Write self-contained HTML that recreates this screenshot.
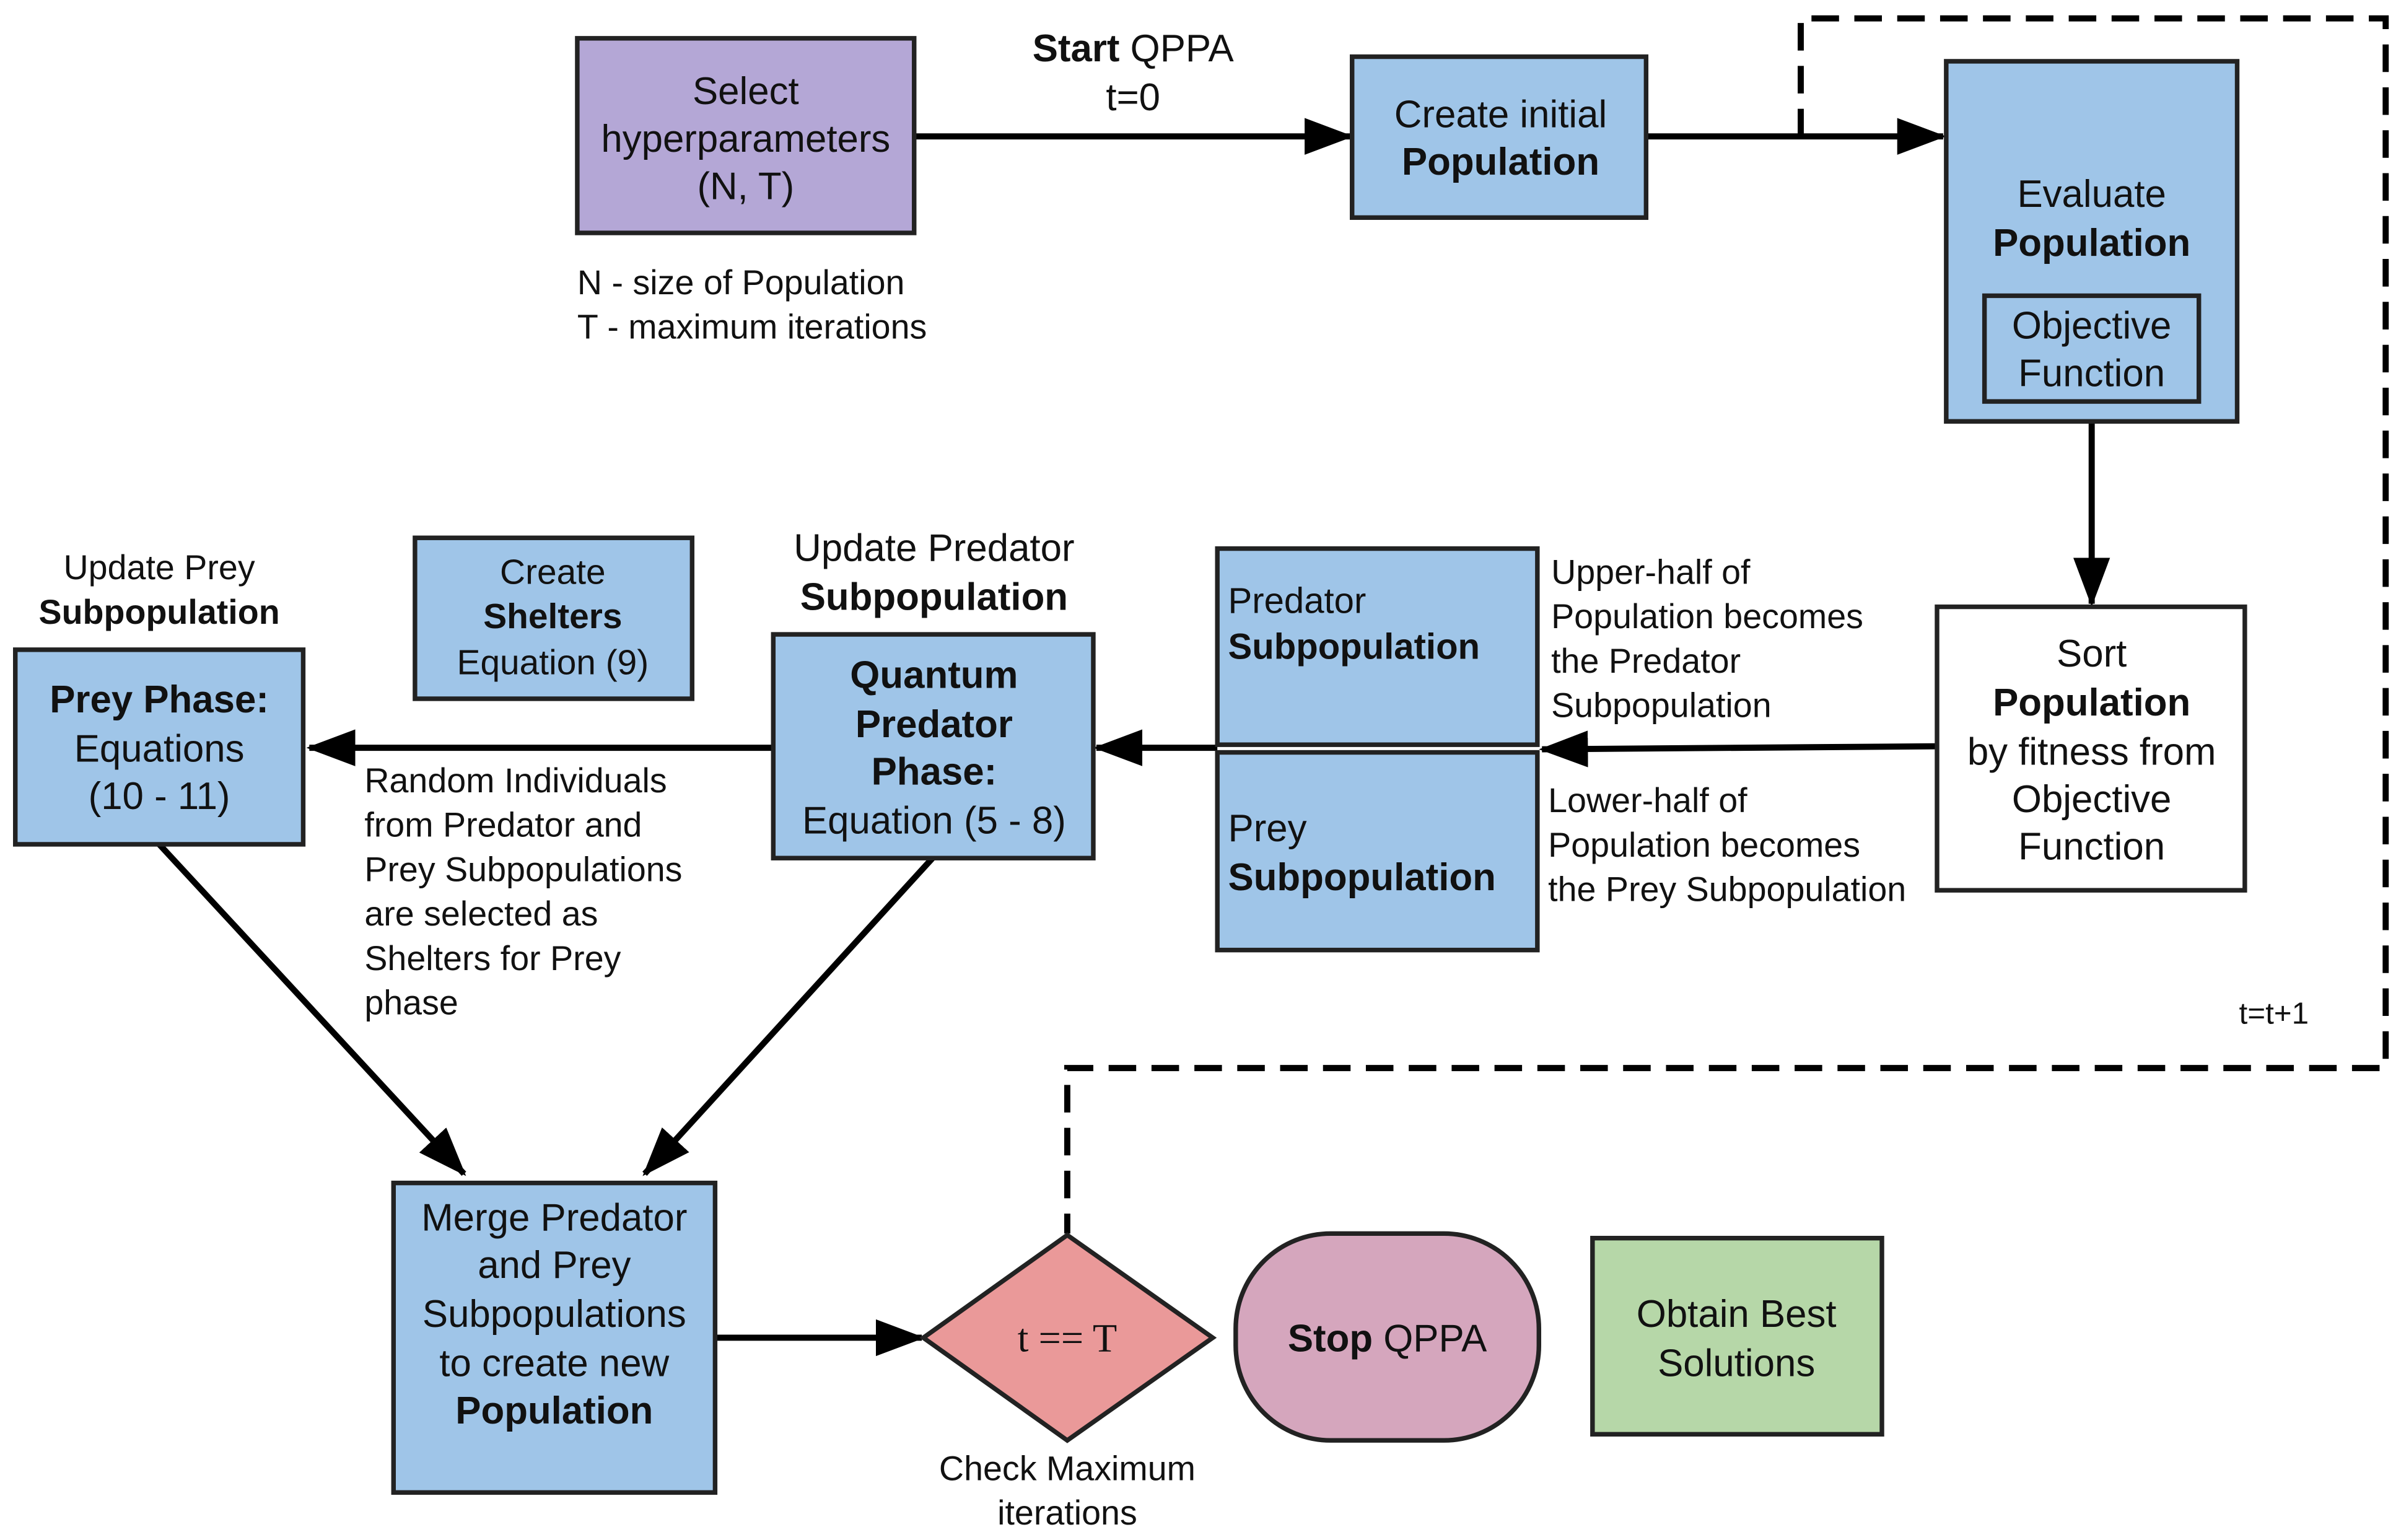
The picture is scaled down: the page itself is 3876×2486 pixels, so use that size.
<!DOCTYPE html>
<html><head><meta charset="utf-8"><style>
html,body{margin:0;padding:0;background:#fff;}
svg{display:block;}
text{font-family:"Liberation Sans",Arial,sans-serif;fill:#111;}
.b{font-size:25px;text-anchor:middle;}
.s{font-size:22.5px;}
.bold{font-weight:bold;}
.box{stroke:#222;stroke-width:3;}
.ln{stroke:#000;stroke-width:4;fill:none;}
</style></head><body>
<svg width="3876" height="2486" viewBox="0 0 1568 1005" preserveAspectRatio="none" xmlns="http://www.w3.org/2000/svg">
<defs>
<marker id="ah" markerWidth="8" markerHeight="6" refX="7.5" refY="3" orient="auto" markerUnits="strokeWidth">
<path d="M0,0 L8,3 L0,6 z" fill="#000"/>
</marker>
</defs>
<rect width="1568" height="1005" fill="#fff"/>

<path d="M1176,89 L1176,12 L1558,12 L1558,697 L697,697 L697,805" fill="none" stroke="#000" stroke-width="4" stroke-dasharray="18,10"/>

<line class="ln" x1="597" y1="89" x2="882" y2="89" marker-end="url(#ah)"/>
<line class="ln" x1="1075" y1="89" x2="1269" y2="89" marker-end="url(#ah)"/>
<line class="ln" x1="1366" y1="275" x2="1366" y2="394" marker-end="url(#ah)"/>
<line class="ln" x1="1265" y1="487" x2="1007" y2="489" marker-end="url(#ah)"/>
<line class="ln" x1="795" y1="488" x2="716" y2="488" marker-end="url(#ah)"/>
<line class="ln" x1="505" y1="488" x2="202" y2="488" marker-end="url(#ah)"/>
<line class="ln" x1="104" y1="551" x2="303" y2="766" marker-end="url(#ah)"/>
<line class="ln" x1="609" y1="560" x2="421" y2="766" marker-end="url(#ah)"/>
<line class="ln" x1="467" y1="873" x2="602" y2="873" marker-end="url(#ah)"/>

<rect class="box" x="377" y="25" width="220" height="127" fill="#b4a7d6"/>
<text class="b" x="487" y="68">Select</text>
<text class="b" x="487" y="99">hyperparameters</text>
<text class="b" x="487" y="130">(N, T)</text>
<text class="s" x="377" y="192">N -  size of Population</text>
<text class="s" x="377" y="221">T - maximum iterations</text>

<text class="b" x="740" y="40"><tspan class="bold">Start</tspan> QPPA</text>
<text class="b" x="740" y="72">t=0</text>

<rect class="box" x="883" y="37" width="192" height="105" fill="#9fc5e8"/>
<text class="b" x="980" y="83">Create initial</text>
<text class="b bold" x="980" y="114">Population</text>

<rect class="box" x="1271" y="40" width="190" height="235" fill="#9fc5e8"/>
<text class="b" x="1366" y="135">Evaluate</text>
<text class="b bold" x="1366" y="167">Population</text>
<rect class="box" x="1296" y="193" width="140" height="69" fill="#9fc5e8"/>
<text class="b" x="1366" y="221">Objective</text>
<text class="b" x="1366" y="252">Function</text>

<rect class="box" x="1265" y="396" width="201" height="185" fill="#fff"/>
<text class="b" x="1366" y="435">Sort</text>
<text class="b bold" x="1366" y="467">Population</text>
<text class="b" x="1366" y="499">by fitness from</text>
<text class="b" x="1366" y="530">Objective</text>
<text class="b" x="1366" y="561">Function</text>

<rect class="box" x="795" y="358" width="209" height="128" fill="#9fc5e8"/>
<text x="802" y="400" style="font-size:23.5px">Predator</text>
<text class="bold" x="802" y="430" style="font-size:23.5px">Subpopulation</text>
<rect class="box" x="795" y="491" width="209" height="129" fill="#9fc5e8"/>
<text class="b" x="802" y="549" style="text-anchor:start">Prey</text>
<text class="b bold" x="802" y="581" style="text-anchor:start">Subpopulation</text>

<text class="s" x="1013" y="381">Upper-half of</text>
<text class="s" x="1013" y="410">Population becomes</text>
<text class="s" x="1013" y="439">the Predator</text>
<text class="s" x="1013" y="468">Subpopulation</text>
<text class="s" x="1011" y="530">Lower-half of</text>
<text class="s" x="1011" y="559">Population  becomes</text>
<text class="s" x="1011" y="588">the Prey Subpopulation</text>

<text class="b" x="610" y="366">Update Predator</text>
<text class="b bold" x="610" y="398">Subpopulation</text>
<rect class="box" x="505" y="414" width="209" height="146" fill="#9fc5e8"/>
<text class="b bold" x="610" y="449">Quantum</text>
<text class="b bold" x="610" y="481">Predator</text>
<text class="b bold" x="610" y="512">Phase:</text>
<text class="b" x="610" y="544">Equation (5 - 8)</text>

<rect class="box" x="271" y="351" width="181" height="105" fill="#9fc5e8"/>
<text class="b" x="361" y="381" style="font-size:23px">Create</text>
<text class="b bold" x="361" y="410" style="font-size:23px">Shelters</text>
<text class="b" x="361" y="440" style="font-size:23px">Equation (9)</text>

<text class="b" x="104" y="378" style="font-size:22.5px">Update Prey</text>
<text class="b bold" x="104" y="407" style="font-size:22.5px">Subpopulation</text>
<rect class="box" x="10" y="424" width="188" height="127" fill="#9fc5e8"/>
<text class="b bold" x="104" y="465">Prey Phase:</text>
<text class="b" x="104" y="497">Equations</text>
<text class="b" x="104" y="528">(10 - 11)</text>

<text class="s" x="238" y="517">Random Individuals</text>
<text class="s" x="238" y="546">from Predator and</text>
<text class="s" x="238" y="575">Prey Subpopulations</text>
<text class="s" x="238" y="604">are selected as</text>
<text class="s" x="238" y="633">Shelters for Prey</text>
<text class="s" x="238" y="662">phase</text>

<rect class="box" x="257" y="772" width="210" height="202" fill="#9fc5e8"/>
<text class="b" x="362" y="803">Merge Predator</text>
<text class="b" x="362" y="834">and Prey</text>
<text class="b" x="362" y="866">Subpopulations</text>
<text class="b" x="362" y="898">to create new</text>
<text class="b bold" x="362" y="929">Population</text>

<polygon class="box" points="697,806 792,873 697,940 603,873" fill="#ea9999"/>
<text x="697" y="882" style="font-family:'Liberation Serif',serif;font-size:26px;text-anchor:middle">t == T</text>
<text class="s" x="697" y="966" style="text-anchor:middle">Check Maximum</text>
<text class="s" x="697" y="995" style="text-anchor:middle">iterations</text>

<rect class="box" x="807" y="805" width="198" height="135" rx="62" ry="62" fill="#d5a6bd"/>
<text class="b" x="906" y="882"><tspan class="bold">Stop</tspan> QPPA</text>

<rect class="box" x="1040" y="808" width="189" height="128" fill="#b6d7a8"/>
<text class="b" x="1134" y="866">Obtain Best</text>
<text class="b" x="1134" y="898">Solutions</text>

<text class="s" x="1485" y="668" style="font-size:20px;text-anchor:middle">t=t+1</text>
</svg>
</body></html>
